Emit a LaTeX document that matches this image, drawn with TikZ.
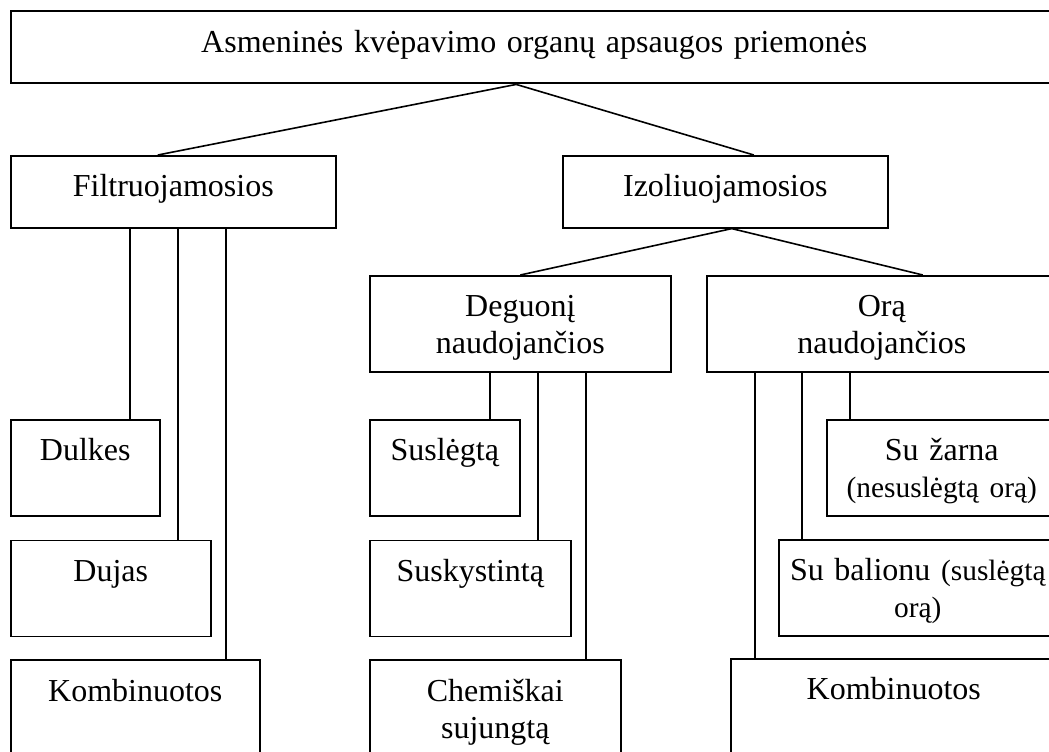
\documentclass[tikz,border=0pt]{standalone}
\usepackage{fontspec}
\setmainfont{Liberation Serif}
\usetikzlibrary{positioning}
\tikzset{
  every node/.style={inner sep=0pt}
}
\newcommand{\smalltxt}{\fontsize{14.7}{18.5}\selectfont}

\begin{document}
\begin{tikzpicture}[
    x=0.5pt, y=-0.5pt,
    font=\fontsize{16}{18.5}\selectfont,
    box/.style={rectangle, draw, line width=0.8pt, align=center, text height=20.5pt},
    lowbox/.style={box, text depth=15.5pt},
    highbox/.style={box, text depth=27.5pt},
    bottombox/.style={box, text depth=32pt},
    link/.style={draw, line width=0.8pt}
]
    \useasboundingbox (0,0) rectangle (1049,751);
    \clip (0,0) rectangle (1049,751);

    \node[lowbox, line width=1.2pt, text width=523pt, anchor=north west] (ppe) at (10,10) {Asmeninės kvėpavimo organų apsaugos priemonės};

    \node[lowbox, text width=162.5pt, anchor=north west] (filtr) at (10,155) {Filtruojamosios};
    \node[lowbox, text width=162.5pt, anchor=north west] (izol) at (562,155) {Izoliuojamosios};

    \draw[link] ([xshift=-9pt]ppe.south) -- ([xshift=-7.75pt]filtr.north);
    \draw[link] ([xshift=-9pt]ppe.south) -- ([xshift=14.25pt]izol.north);


    \node[highbox, text width=150.5pt, anchor=north west] (deguon) at (369,275) {Deguonį\\naudojančios};
    \node[highbox, text width=175pt, anchor=north west] (ora) at (706,275) {Orą\\naudojančios};

    \draw[link] ([xshift=3.25pt]izol.south) -- (deguon.north);
    \draw[link] ([xshift=3.25pt]izol.south) -- ([xshift=20.5pt]ora.north);

  
    \node[highbox, text width=74.5pt, anchor=north west] (dulkes) at (10,419) {Dulkes};
    \node[highbox, text width=100pt, below=11.5pt of dulkes.south west, anchor=north west] (dujas) {Dujas};
    \node[bottombox, text width=124.5pt, below=11pt of dujas.south west, anchor=north west] (kombF) {Kombinuotos};

    \draw[link] ([xshift=60pt]filtr.south west) -- ([xshift=60pt]filtr.south west |- dulkes.north);
    \draw[link] ([xshift=84pt]filtr.south west) -- ([xshift=84pt]filtr.south west |- dujas.north);
    \draw[link] ([xshift=108pt]filtr.south west) -- ([xshift=108pt]filtr.south west |- kombF.north);


    \node[highbox, text width=75pt, anchor=north west] (suslegta) at (369,419) {Suslėgtą};
    \node[highbox, text width=100.5pt, below=11.5pt of suslegta.south west, anchor=north west] (suskyst) {Suskystintą};
    \node[bottombox, text width=125.5pt, below=11pt of suskyst.south west, anchor=north west] (chem) {Chemiškai\\sujungtą};

    \draw[link] ([xshift=60.5pt]deguon.south west) -- ([xshift=60.5pt]deguon.south west |- suslegta.north);
    \draw[link] ([xshift=84.5pt]deguon.south west) -- ([xshift=84.5pt]deguon.south west |- suskyst.north);
    \draw[link] ([xshift=108.5pt]deguon.south west) -- ([xshift=108.5pt]deguon.south west |- chem.north);


    \node[highbox, text width=115pt, anchor=north west] (zarna) at (826,419) {Su žarna\\{\smalltxt (nesuslėgtą orą)}};
    \node[highbox, text width=139pt, anchor=north west] (balion) at (778,539) {Su balionu {\smalltxt (suslėgtą\\orą)}};
    \node[bottombox, text width=163pt, anchor=north west] (kombO) at (730,658) {Kombinuotos};

    \draw[link] ([xshift=72pt]ora.south west) -- ([xshift=72pt]ora.south west |- zarna.north);
    \draw[link] ([xshift=48pt]ora.south west) -- ([xshift=48pt]ora.south west |- balion.north);
    \draw[link] ([xshift=24.5pt]ora.south west) -- ([xshift=24.5pt]ora.south west |- kombO.north);

\end{tikzpicture}
\end{document}
